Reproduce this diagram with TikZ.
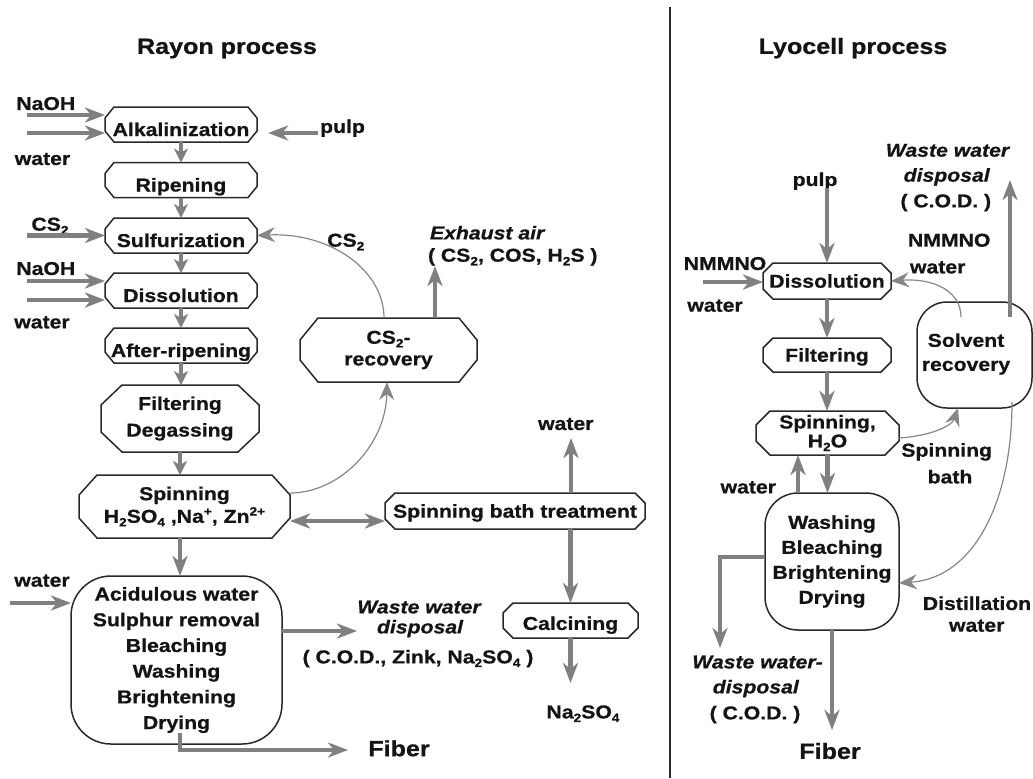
\documentclass[tikz,border=0pt]{standalone}
\usepackage{fontspec}
\setmainfont{Liberation Sans}[FakeStretch=1.14, BoldFeatures={FakeBold=0.8}, BoldItalicFeatures={FakeBold=0.8}]
\usetikzlibrary{arrows.meta}

\definecolor{flow}{RGB}{128,128,128}
\definecolor{thinflow}{RGB}{135,135,135}
\definecolor{edge}{RGB}{40,40,40}
\definecolor{ink}{RGB}{20,20,20}

% chemical indices
\newcommand\lsub[1]{\raisebox{-1.8pt}{\fontsize{6}{6}\selectfont #1}}
\newcommand\lsup[1]{\raisebox{3.6pt}{\fontsize{6}{6}\selectfont #1}}
% octagonal outline around a rectangular node; #2, #3 = corner cut (x, y)
\newcommand\octframe[3]{%
  \draw[boxline] ([xshift={#2*0.5}]#1.north west) -- ([xshift={-#2*0.5}]#1.north east)
    -- ([yshift={-#3*0.5}]#1.north east) -- ([yshift={#3*0.5}]#1.south east)
    -- ([xshift={-#2*0.5}]#1.south east) -- ([xshift={#2*0.5}]#1.south west)
    -- ([yshift={#3*0.5}]#1.south west) -- ([yshift={-#3*0.5}]#1.north west) -- cycle;}

\tikzset{
  txt/.style={inner sep=0pt, outer sep=0pt, text=ink, align=center,
    font=\fontsize{9.3}{12}\selectfont\bfseries},
  ltxt/.style={txt, text height=6.66pt, text depth=0pt},
  itxt/.style={ltxt, font=\fontsize{9.3}{12}\selectfont\bfseries\itshape},
  title/.style={txt, font=\fontsize{11}{13}\selectfont\bfseries, text height=7.88pt, text depth=0pt},
  oct/.style 2 args={txt, minimum width=#1, minimum height=#2},
  onel/.style={text height=6.66pt, text depth=0pt},
  chain/.style={text height=11.5pt, text depth=0pt},
  rbox/.style n args={3}{txt, draw=edge, line width=0.75pt, rounded corners=#3,
    minimum width=#1, minimum height=#2},
  boxline/.style={draw=edge, line width=0.75pt},
  fl/.style={draw=flow, line width=2.2pt, -{Stealth[length=10pt,width=7.5pt,inset=3pt]}},
  fls/.style={draw=flow, line width=2.2pt, -{Stealth[length=7pt,width=7pt,inset=2pt]}},
  dfl/.style={draw=flow, line width=2.2pt,
    {Stealth[length=10pt,width=7.5pt,inset=3pt]}-{Stealth[length=10pt,width=7.5pt,inset=3pt]}},
  tl/.style={draw=thinflow, line width=0.6pt, -{Stealth[length=9pt,width=7.5pt,inset=3pt]}},
  divider/.style={draw=edge, line width=0.6pt},
}

\begin{document}
\begin{tikzpicture}[x=0.5pt, y=-0.5pt]
\useasboundingbox (0,0) rectangle (1033,778);

% ---------- titles and separator ----------
\node[title] (tRayon) at (227,46) {Rayon process};
\node[title] (tLyo) at (853,46) {Lyocell process};
\draw[divider] (670,7) -- (670,778);

% ---------- rayon process: boxes ----------
\node[oct={76pt}{17.5pt}, chain] (alk)  at (181,124.5) {Alkalinization};
\node[oct={76pt}{17.5pt}, chain] (rip)  at (181,180)   {Ripening};
\node[oct={76pt}{17.5pt}, chain] (sulf) at (181,235.5) {Sulfurization};
\node[oct={76pt}{17.5pt}, chain] (diss) at (181,290.5) {Dissolution};
\node[oct={76pt}{17.5pt}, chain] (aft)  at (181,345.5) {After-ripening};
\node[oct={79pt}{33.5pt}, font=\fontsize{9.3}{13.3}\selectfont\bfseries] (filt) at (180,418.5) {Filtering\\Degassing};
\node[oct={105.5pt}{31.5pt}, font=\fontsize{9.3}{11.3}\selectfont\bfseries] (spin) at (184.5,506.5)
  {Spinning\\H\lsub{2}SO\lsub{4} ,Na\lsup{+}, Zn\lsup{2+}};
\node[oct={88.5pt}{32pt}, font=\fontsize{9.3}{10.8}\selectfont\bfseries] (csrec) at (388.5,350) {CS\lsub{2}-\\recovery};
\node[oct={130pt}{18pt}, onel] (sbt) at (515,511) {Spinning bath treatment};
\node[oct={67.5pt}{17.5pt}, text height=9.4pt, text depth=0pt] (calc) at (570.5,620.5) {Calcining};
\node[rbox={105.5pt}{84pt}{20pt}, font=\fontsize{9.3}{12.85}\selectfont\bfseries] (big) at (176.5,660)
  {Acidulous water\\Sulphur removal\\Bleaching\\Washing\\Brightening\\Drying};

\octframe{alk}{9}{11}
\octframe{rip}{9}{11}
\octframe{sulf}{9}{11}
\octframe{diss}{9}{11}
\octframe{aft}{9}{11}
\octframe{filt}{21}{20}
\octframe{spin}{18}{20}
\octframe{csrec}{18}{22}
\octframe{sbt}{10}{10}
\octframe{calc}{10}{10}

% ---------- rayon process: labels ----------
\node[ltxt] (lNaOHa) at (45.8,103.3) {NaOH};
\node[ltxt] (lWatA) at (42.5,158.3) {water};
\node[ltxt] (lCS) at (50,224) {CS\lsub{2}};
\node[ltxt] (lNaOHb) at (45.8,268.3) {NaOH};
\node[ltxt] (lWatB) at (42,321.7) {water};
\node[ltxt] (pulpA) at (342.5,126.3) {pulp};
\node[ltxt] (lCSr) at (345.8,240) {CS\lsub{2}};
\node[itxt, anchor=west] (lExh) at (430,232.7) {Exhaust air};
\node[ltxt, anchor=west] (lExh2) at (428,255) {( CS\lsub{2}, COS, H\lsub{2}S )};
\node[ltxt] (lWatC) at (565.8,423.3) {water};
\node[ltxt] (lNa) at (583,711.7) {Na\lsub{2}SO\lsub{4}};
\node[itxt] (lWW1) at (419,606.7) {Waste water};
\node[itxt] (lWW2) at (420,626.7) {disposal};
\node[ltxt] (lWW3) at (418,656.7) {( C.O.D., Zink, Na\lsub{2}SO\lsub{4} )};
\node[ltxt] (lWatD) at (42,580) {water};
\node[title] (lFibA) at (399,748.3) {Fiber};

% ---------- rayon process: flows ----------
\coordinate (inA1) at (27,115);
\coordinate (inA2) at (27,133);
\coordinate (inS) at (27,235.5);
\coordinate (inD1) at (27,281);
\coordinate (inD2) at (27,300);
\coordinate (inB) at (10,603);
\draw[fl] (inA1) -- (inA1 -| alk.west);
\draw[fl] (inA2) -- (inA2 -| alk.west);
\draw[fl] (inS) -- (inS -| sulf.west);
\draw[fl] (inD1) -- (inD1 -| diss.west);
\draw[fl] (inD2) -- (inD2 -| diss.west);
\draw[fl] ([xshift=-1pt,yshift=-3.35pt]pulpA.west) -- ++(-50,0);

\draw[fls] (alk.south) -- (rip.north);
\draw[fls] (rip.south) -- (sulf.north);
\draw[fls] (sulf.south) -- (diss.north);
\draw[fls] (diss.south) -- (aft.north);
\draw[fls] (aft.south) -- (aft.south |- filt.north);
\draw[fls] (filt.south) -- (filt.south |- spin.north);
\draw[fl] (filt.south |- spin.south) -- (filt.south |- big.north);

\draw[tl] ([xshift=-2.25pt]csrec.north) .. controls (384,270) and (330,232) .. (sulf.east);
\draw[tl] ([yshift=6.75pt]spin.east) .. controls (340,493) and (386,445) .. ([xshift=-0.75pt]csrec.south);
\draw[fl] ([xshift=23.25pt]csrec.north) -- ++(0,-52);

\draw[dfl] ([yshift=-7.25pt]spin.east) -- ([yshift=-7.25pt]spin.east -| sbt.west);
\draw[fl] ([xshift=28pt]sbt.north) -- ++(0,-55);
\draw[fl] (calc.north |- sbt.south) -- (calc.north);
\draw[fl] (calc.south) -- ++(0,45);

\draw[fl] (inB) -- (inB -| big.west);
\draw[fl] ([yshift=14.5pt]big.east) -- ++(75,0);
\draw[fl] ([xshift=1.75pt,yshift=5.5pt]big.south) -- ++(0,17) -- ++(168,0);

% ---------- lyocell process: boxes ----------
\node[oct={64pt}{18pt}, onel] (ldis) at (827,281) {Dissolution};
\node[oct={64pt}{17pt}, onel] (lfil) at (827,355) {Filtering};
\node[oct={71.5pt}{22pt}, font=\fontsize{9.3}{9.5}\selectfont\bfseries] (lspin) at (827.5,433) {Spinning,\\H\lsub{2}O};
\node[rbox={67pt}{68.5pt}{16.5pt}, font=\fontsize{9.3}{12.5}\selectfont\bfseries] (wash) at (832,561.5)
  {Washing\\Bleaching\\Brightening\\Drying};
\node[rbox={57.5pt}{53pt}{15pt}] (solv) at (974.5,355) {};
\node[txt] (solvtxt) at (966,354) {Solvent\\recovery};

\octframe{ldis}{10}{10}
\octframe{lfil}{10}{10}
\octframe{lspin}{14}{14}

% ---------- lyocell process: labels ----------
\node[ltxt] (pulpB) at (815,179.3) {pulp};
\node[ltxt] (lNM1) at (725,263.3) {NMMNO};
\node[ltxt] (lWatE) at (715,305) {water};
\node[ltxt, anchor=west] (lNM2) at (908,240) {NMMNO};
\node[ltxt, anchor=west] (lWatF) at (910,266.7) {water};
\node[itxt] (lWW4) at (947.5,150) {Waste water};
\node[itxt] (lWW5) at (946.7,175) {disposal};
\node[ltxt] (lWW6) at (945.8,200.7) {( C.O.D. )};
\node[ltxt] (lSB1) at (946.7,450) {Spinning};
\node[ltxt] (lSB2) at (950,476.7) {bath};
\node[ltxt] (lWatG) at (748.3,486.7) {water};
\node[ltxt] (lDis1) at (977,603.3) {Distillation};
\node[ltxt] (lDis2) at (976.7,625) {water};
\node[itxt] (lWW7) at (757.5,661.7) {Waste water-};
\node[itxt] (lWW8) at (755.8,686.7) {disposal};
\node[ltxt] (lWW9) at (755,712.7) {( C.O.D. )};
\node[title] (lFibB) at (830,751) {Fiber};

% ---------- lyocell process: flows ----------
\coordinate (inN) at (703,282);
\draw[fl] (inN) -- (inN -| ldis.west);
\draw[fl] ([yshift=-1pt]pulpB.south -| ldis.north) -- (ldis.north);
\draw[fl] (ldis.south) -- (lfil.north);
\draw[fl] (lfil.south) -- (lfil.south |- lspin.north);
\draw[fl] (lspin.south) -- (lspin.south |- wash.north);
\draw[fl] ([xshift=-17pt]wash.north) -- ([xshift=-17pt]wash.north |- lspin.south);
\draw[fl] ([yshift=2.25pt]wash.west) -- ++(-45,0) -- ++(0,91);
\draw[fl] (wash.south) -- ++(0,100);
\draw[fl] ([xshift=17.75pt,yshift=-7.5pt]solv.north) -- ++(0,-137);

\draw[tl] ([xshift=-6.75pt,yshift=-7.5pt]solv.north) .. controls (961,292) and (935,278) .. (ldis.east);
\draw[tl] ([yshift=-2.5pt]lspin.east) .. controls (930,436) and (952,426) .. ([xshift=-8.25pt]solv.south);
\draw[tl] ([xshift=-10pt,yshift=3pt]solv.south east) .. controls (1012,500) and (975,578) .. ([yshift=-10.75pt]wash.east);
\end{tikzpicture}
\end{document}
